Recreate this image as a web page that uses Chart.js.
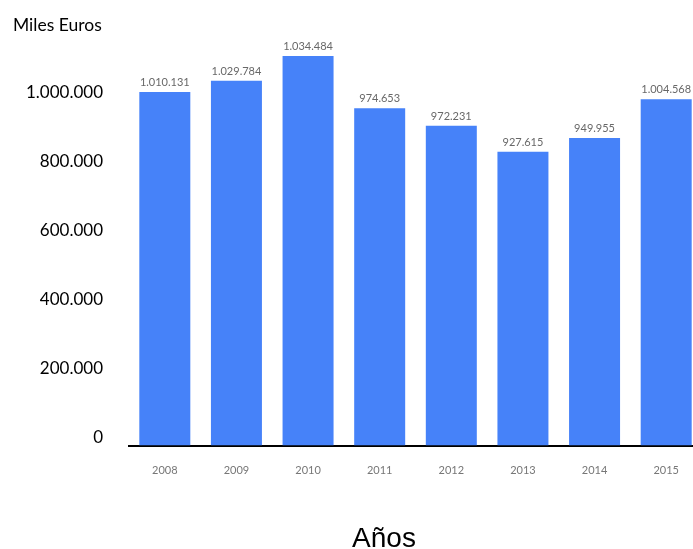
<!DOCTYPE html>
<html>
<head>
<meta charset="utf-8">
<script src="https://cdn.jsdelivr.net/npm/chart.js@4/dist/chart.umd.min.js"></script>
<style>
  html, body { margin: 0; padding: 0; background: #fff; overflow: hidden; width: 693px; height: 549px; }
  #wrap { position: relative; width: 702px; height: 549px; }
</style>
</head>
<body>
<div id="wrap"><canvas id="c" width="702" height="549"></canvas></div>
<script>
// Categories
const years = ['2008', '2009', '2010', '2011', '2012', '2013', '2014', '2015'];
// Bar heights as drawn against the value axis
const barHeights = [1024600, 1057400, 1129000, 977400, 927000, 851600, 891300, 1003500];
// Printed value labels above each bar
const valueLabels = ['1.010.131', '1.029.784', '1.034.484', '974.653', '972.231', '927.615', '949.955', '1.004.568'];
// Value axis ticks
const yTicks = [0, 200000, 400000, 600000, 800000, 1000000];
const yTickLabels = ['0', '200.000', '400.000', '600.000', '800.000', '1.000.000'];
const yAxisTitle = 'Miles Euros';
const xAxisTitle = 'Años';

const textPlugin = {
  id: 'texts',
  afterDatasetsDraw(chart) {
    const ctx = chart.ctx;
    const meta = chart.getDatasetMeta(0);
    ctx.save();
    ctx.fillStyle = '#686868';
    ctx.font = '11px Lato';
    ctx.textAlign = 'center';
    ctx.textBaseline = 'alphabetic';
    meta.data.forEach((bar, i) => {
      ctx.fillText(valueLabels[i], bar.x, bar.y - 6);
    });
    ctx.restore();
  },
  afterDraw(chart) {
    const ctx = chart.ctx;
    ctx.save();
    ctx.fillStyle = '#000';
    ctx.textBaseline = 'alphabetic';
    ctx.textAlign = 'left';
    ctx.font = '17.5px Lato';
    ctx.fillText(yAxisTitle, 13, 30.5);
    ctx.font = '28px "Liberation Sans"';
    ctx.textAlign = 'center';
    ctx.fillText(xAxisTitle, 384, 547);
    ctx.restore();
  }
};

new Chart(document.getElementById('c'), {
  type: 'bar',
  data: {
    labels: years,
    datasets: [{
      data: barHeights,
      backgroundColor: '#4682f9',
      borderWidth: 0,
      barPercentage: 0.712,
      categoryPercentage: 1
    }]
  },
  options: {
    responsive: false,
    animation: false,
    layout: { padding: { top: 31.5, right: 0, bottom: 0, left: 0 } },
    plugins: { legend: { display: false }, tooltip: { enabled: false }, title: { display: false } },
    scales: {
      x: {
        grid: { display: false, drawTicks: false },
        border: { display: true, color: '#000', width: 2 },
        ticks: { color: '#777777', font: { family: 'Lato', size: 11 }, padding: 18, maxRotation: 0 },
        afterFit(scale) { scale.height = 549 - 445.5; }
      },
      y: {
        min: 0,
        max: 1200000,
        grid: { display: false, drawTicks: false },
        border: { display: false },
        afterBuildTicks(scale) { scale.ticks = yTicks.map(v => ({ value: v })); },
        ticks: {
          color: '#000',
          font: { family: 'Lato', size: 17 },
          padding: 26,
          labelOffset: -7.5,
          callback(v) { const i = yTicks.indexOf(v); return i >= 0 ? yTickLabels[i] : ''; }
        },
        afterFit(scale) { scale.width = 129; scale.paddingTop = 0; scale.paddingBottom = 0; }
      }
    }
  },
  plugins: [textPlugin]
});
</script>
</body>
</html>
